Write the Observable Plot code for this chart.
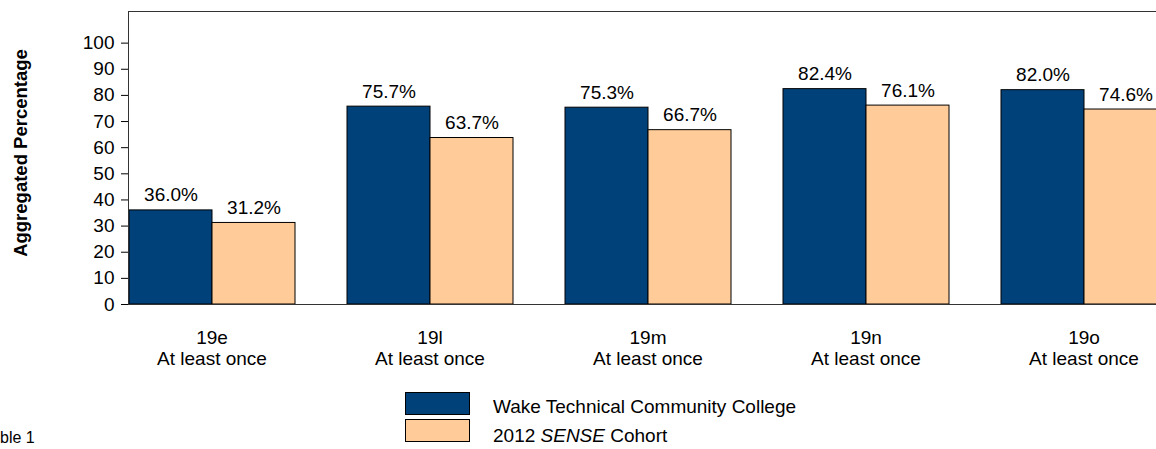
<!DOCTYPE html>
<html>
<head>
<meta charset="utf-8">
<script src="https://cdn.jsdelivr.net/npm/d3@7"></script>
<script src="https://cdn.jsdelivr.net/npm/@observablehq/plot@0.6"></script>
<style>
  html, body { margin: 0; padding: 0; background: white; overflow: hidden; }
  #wrap { position: relative; width: 1156px; height: 449px; overflow: hidden; font-family: "Liberation Sans", Arial, sans-serif; color: #000; }
  #chart { position: absolute; left: 0; top: 0; width: 1167px; }
  #chart svg { max-width: none !important; }
  #ytitle { position: absolute; left: 20.5px; top: 153px; width: 0; height: 0; }
  #ytitle span { position: absolute; left: 0; top: 0; transform: translate(-50%, -50%) rotate(-90deg); white-space: nowrap; line-height: 1; font-weight: bold; font-size: 18.5px; }
  .sw { position: absolute; left: 405px; width: 63px; height: 21px; border: 1px solid #000; }
  .lt { position: absolute; left: 493px; font-size: 19px; white-space: nowrap; line-height: 22px; }
  #note { position: absolute; left: 0px; top: 429px; font-size: 16px; white-space: nowrap; line-height: 18px; }
</style>
</head>
<body>
<div id="wrap">
  <div id="chart"></div>
  <div id="ytitle"><span></span></div>
  <div id="legend"></div>
  <div id="note">ble 1</div>
</div>
<script>
// ---- data ----
const categories = ["19e", "19l", "19m", "19n", "19o"];
const subLabels = ["At least once", "At least once", "At least once", "At least once", "At least once"];
const seriesNames = ["Wake Technical Community College", "2012 SENSE Cohort"];
const wakeValues = [36.0, 75.7, 75.3, 82.4, 82.0];
const cohortValues = [31.2, 63.7, 66.7, 76.1, 74.6];
const yTicks = [0, 10, 20, 30, 40, 50, 60, 70, 80, 90, 100];
const colors = ["#01417A", "#FFCC99"];
const yTitle = "Aggregated Percentage";

// ---- table ----
const rows = [];
categories.forEach((c, i) => {
  rows.push({category: c, series: seriesNames[0], value: wakeValues[i]});
  rows.push({category: c, series: seriesNames[1], value: cohortValues[i]});
});
const subOf = new Map(categories.map((c, i) => [c, subLabels[i]]));

const chart = Plot.plot({
  width: 1167,
  height: 380,
  marginLeft: 128,
  marginRight: 0,
  marginTop: 11,
  marginBottom: 76,
  style: {fontFamily: "'Liberation Sans', Arial, sans-serif", fontSize: "19px", color: "#000", background: "white", overflow: "visible", maxWidth: "none"},
  fx: {domain: categories, paddingInner: 0.234, paddingOuter: 0, axis: null},
  x: {domain: seriesNames, padding: 0, axis: null},
  y: {domain: [0, 112.1], axis: null},
  color: {domain: seriesNames, range: colors},
  marks: [
    Plot.barY(rows, {fx: "category", x: "series", y: "value", fill: "series", stroke: "#000", strokeWidth: 1}),
    Plot.text(rows, {fx: "category", x: "series", y: "value", text: d => d.value.toFixed(1) + "%", dy: -9, lineAnchor: "bottom", fontSize: 19, fill: "#000"}),
    Plot.axisY({ticks: yTicks, tickSize: 7, tickPadding: 7, fontSize: 19, label: null}),
    Plot.axisFx({anchor: "bottom", tickSize: 0, tickPadding: 25, fontSize: 19, lineHeight: 1.1, tickFormat: d => d + "\n" + subOf.get(d), label: null}),
    Plot.frame({facet: "super", stroke: "#333"})
  ]
});
document.getElementById("chart").appendChild(chart);
document.querySelector("#ytitle span").textContent = yTitle;

// ---- legend ----
const legend = document.getElementById("legend");
const swTops = [392, 419];
const textTops = [396, 425];
seriesNames.forEach((name, i) => {
  const sw = document.createElement("div");
  sw.className = "sw";
  sw.style.top = swTops[i] + "px";
  sw.style.background = colors[i];
  legend.appendChild(sw);
  const t = document.createElement("div");
  t.className = "lt";
  t.style.top = textTops[i] + "px";
  if (name.includes("SENSE")) {
    const parts = name.split("SENSE");
    t.append(parts[0]);
    const it = document.createElement("i");
    it.textContent = "SENSE";
    t.append(it);
    t.append(parts[1]);
  } else {
    t.textContent = name;
  }
  legend.appendChild(t);
});
</script>
</body>
</html>
